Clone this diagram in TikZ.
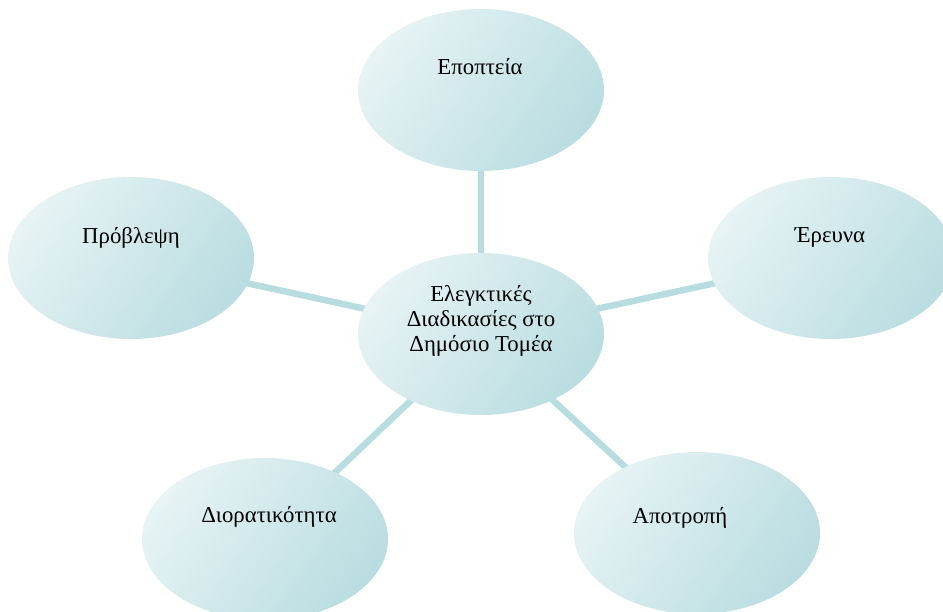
\documentclass[tikz,border=0pt]{standalone}
\usepackage{fontspec}
\setmainfont{Liberation Serif}
\usetikzlibrary{shapes.geometric,backgrounds}
\definecolor{blobL}{HTML}{E7F3F4}
\definecolor{blobM}{HTML}{E0F0F1}
\definecolor{blobD}{HTML}{B9DDE1}
\definecolor{linkC}{HTML}{B8DDE1}
\begin{document}
\begin{tikzpicture}[x=1pt,y=-1pt,
  blob/.style={ellipse, minimum width=246pt, minimum height=162pt, inner sep=0pt,
    top color=blobL, middle color=blobM, bottom color=blobD, shading angle=55},
  lbl/.style={font=\fontsize{22.8}{25}\selectfont, text=black, inner sep=0pt, anchor=base},
  clbl/.style={font=\fontsize{22.8}{25}\selectfont, text=black, inner sep=0pt, align=center, anchor=center},
  link/.style={draw=linkC, line width=6.5pt}]
\useasboundingbox (0,0) rectangle (943,612);
\clip (0,0) rectangle (943,612);
% ellipses
\node[blob] (c) at (481,334) {};
\node[blob] (t) at (481,90) {};
\node[blob] (r) at (831,258) {};
\node[blob] (l) at (131,258) {};
\node[blob] (bl) at (265,539) {};
\node[blob] (br) at (697,533) {};
% connectors
\begin{scope}[on background layer]
\draw[link] (c.center) -- (t.center);
\draw[link] (c.center) -- (r.center);
\draw[link] (c.center) -- (l.center);
\draw[link] (c.center) -- (bl.center);
\draw[link] (c.center) -- (br.center);
\end{scope}
% labels
\node[clbl] (ct) at (481,321) {Ελεγκτικές\\Διαδικασίες στο\\Δημόσιο Τομέα};
\node[lbl] (tt) at (480,75) {Εποπτεία};
\node[lbl] (rt) at (830,243) {Έρευνα};
\node[lbl] (lt) at (131,244) {Πρόβλεψη};
\node[lbl] (blt) at (269,522) {Διορατικότητα};
\node[lbl] (brt) at (680,523) {Αποτροπή};
\end{tikzpicture}
\end{document}
